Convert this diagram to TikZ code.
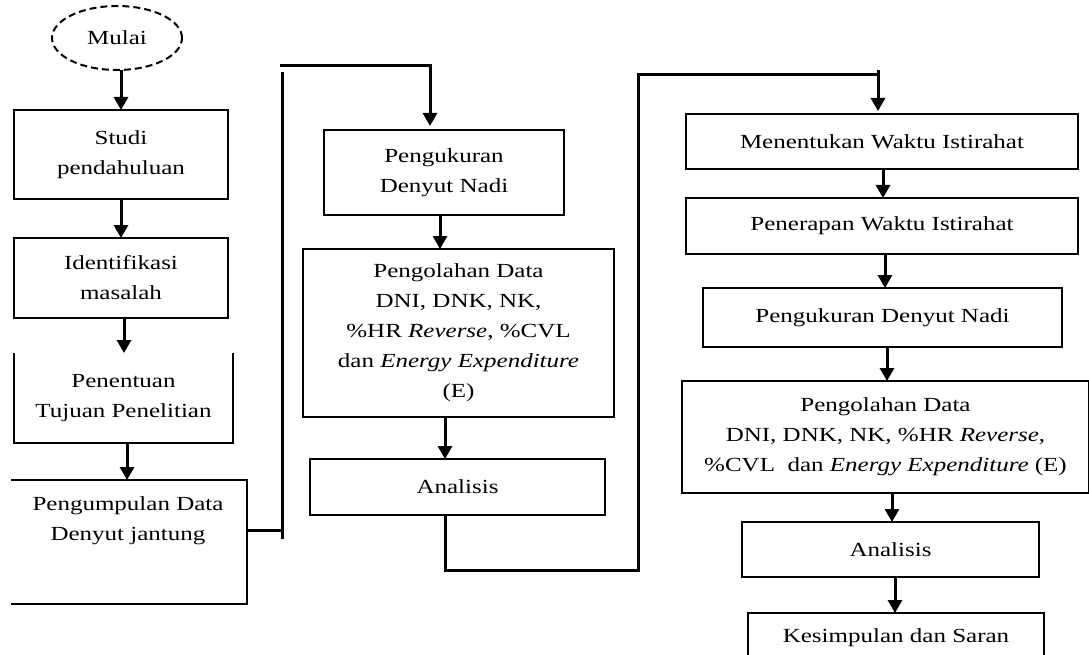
\documentclass[tikz,border=0pt]{standalone}
\usepackage{fontspec}
\setmainfont[FakeStretch=1.25]{Liberation Serif}
\usetikzlibrary{arrows.meta,shapes.geometric}
\begin{document}
\begin{tikzpicture}[x=1pt,y=-1pt,
  box/.style={draw, line width=2.8pt, inner sep=0pt, outer sep=0pt, align=center,
              font=\fontsize{20}{30}\selectfont},
  nobox/.style={box, draw=none},
  txt/.style={inner sep=0pt, align=center, font=\fontsize{20}{30}\selectfont},
  edge/.style={line width=2.8pt},
  arr/.style={line width=3pt, -{Triangle[length=13pt,width=14pt]}},
  ln/.style={line width=3pt}]
\useasboundingbox (0,0) rectangle (1089,655);

% column 1
\node[box, ellipse, dash pattern=on 7pt off 4pt, line width=2pt, minimum width=130pt, minimum height=64pt] (mulai) at (117,38) {Mulai};
\node[box, minimum width=214pt, minimum height=89pt] (studi) at (121,154.5) {Studi\\pendahuluan};
\node[box, minimum width=214pt, minimum height=80pt] (ident) at (121,278) {Identifikasi\\masalah};
\node[nobox, minimum width=219pt, minimum height=90pt] (penentuan) at (123.5,398) {Penentuan\\Tujuan Penelitian};
\draw[edge] (penentuan.north west) -- (penentuan.south west) -- (penentuan.south east) -- (penentuan.north east);
\node[nobox, minimum width=236pt, minimum height=124pt] (pengumpulan) at (129,542) {};
\node[txt] (pengtext) at (128,521) {Pengumpulan Data\\Denyut jantung};
\draw[edge] (pengumpulan.north west) -- (pengumpulan.north east) -- (pengumpulan.south east) -- (pengumpulan.south west);

% column 2
\node[box, minimum width=240pt, minimum height=85pt] (ukur1) at (444,172.5) {Pengukuran\\Denyut Nadi};
\node[box, minimum width=311pt, minimum height=168pt] (olah1) at (458.5,333) {Pengolahan Data\\DNI, DNK, NK,\\\%HR \emph{Reverse}, \%CVL\\dan \emph{Energy Expenditure}\\(E)};
\node[box, minimum width=295pt, minimum height=56pt] (anal1) at (457.5,487) {Analisis};

% column 3
\node[box, minimum width=392pt, minimum height=55pt] (tentu) at (882,141.5) {Menentukan Waktu Istirahat};
\node[box, minimum width=392pt, minimum height=56pt] (terap) at (882,226) {Penerapan Waktu Istirahat};
\node[box, minimum width=359pt, minimum height=59pt] (ukur2) at (882.5,317.5) {Pengukuran Denyut Nadi};
\node[box, minimum width=407pt, minimum height=112pt] (olah2) at (885.5,437) {Pengolahan Data\\DNI, DNK, NK, \%HR \emph{Reverse},\\\%CVL~~dan \emph{Energy Expenditure} (E)};
\node[box, minimum width=297pt, minimum height=55pt] (anal2) at (890.5,549.5) {Analisis};
\node[nobox, minimum width=296pt, minimum height=54pt] (simpul) at (896,640) {};
\node[txt] (simpultext) at (896,638) {Kesimpulan dan Saran};
\draw[edge] (simpul.south west) -- (simpul.north west) -- (simpul.north east) -- (simpul.south east);

% connectors column 1
\draw[arr] (studi.north |- mulai.south) -- (studi.north);
\draw[arr] (studi.south) -- (ident.north);
\draw[arr] ([xshift=3pt]ident.south) -- ([xshift=3pt]ident.south |- penentuan.north);
\draw[arr] ([xshift=3.5pt]penentuan.south) -- ([xshift=3.5pt]penentuan.south |- pengumpulan.north);

% link column 1 -> column 2
\coordinate (a1) at (282,530);
\coordinate (a2) at (282,539);
\coordinate (a3) at (282,72);
\coordinate (a4) at (280,66);
\coordinate (a5) at (430,66);
\coordinate (a6) at (430,126);
\draw[ln] (pengumpulan.east |- a1) -- (a1);
\draw[ln] (a2) -- (a3);
\draw[arr] (a4) -- (a5) -- (a6);

% connectors column 2
\draw[arr] ([xshift=-4pt]ukur1.south) -- ([xshift=-4pt]ukur1.south |- olah1.north);
\draw[arr] ([xshift=-13.5pt]olah1.south) -- ([xshift=-13.5pt]olah1.south |- anal1.north);

% link column 2 -> column 3
\coordinate (b1) at (445,570);
\coordinate (b2) at (638,570);
\coordinate (b3) at (638,75);
\coordinate (b4) at (878,75);
\coordinate (b5) at (878,70);
\coordinate (b6) at (878,111);
\draw[ln] (b1 |- anal1.south) -- (b1) -- (b2) -- (b3) -- (b4);
\draw[arr] (b5) -- (b6);

% connectors column 3
\draw[arr] ([xshift=1pt]tentu.south) -- ([xshift=1pt]tentu.south |- terap.north);
\draw[arr] ([xshift=3pt]terap.south) -- ([xshift=3pt]terap.south |- ukur2.north);
\draw[arr] ([xshift=4.5pt]ukur2.south) -- ([xshift=4.5pt]ukur2.south |- olah2.north);
\draw[arr] ([xshift=6.5pt]olah2.south) -- ([xshift=6.5pt]olah2.south |- anal2.north);
\draw[arr] ([xshift=4.5pt]anal2.south) -- ([xshift=4.5pt]anal2.south |- simpul.north);
\end{tikzpicture}
\end{document}
